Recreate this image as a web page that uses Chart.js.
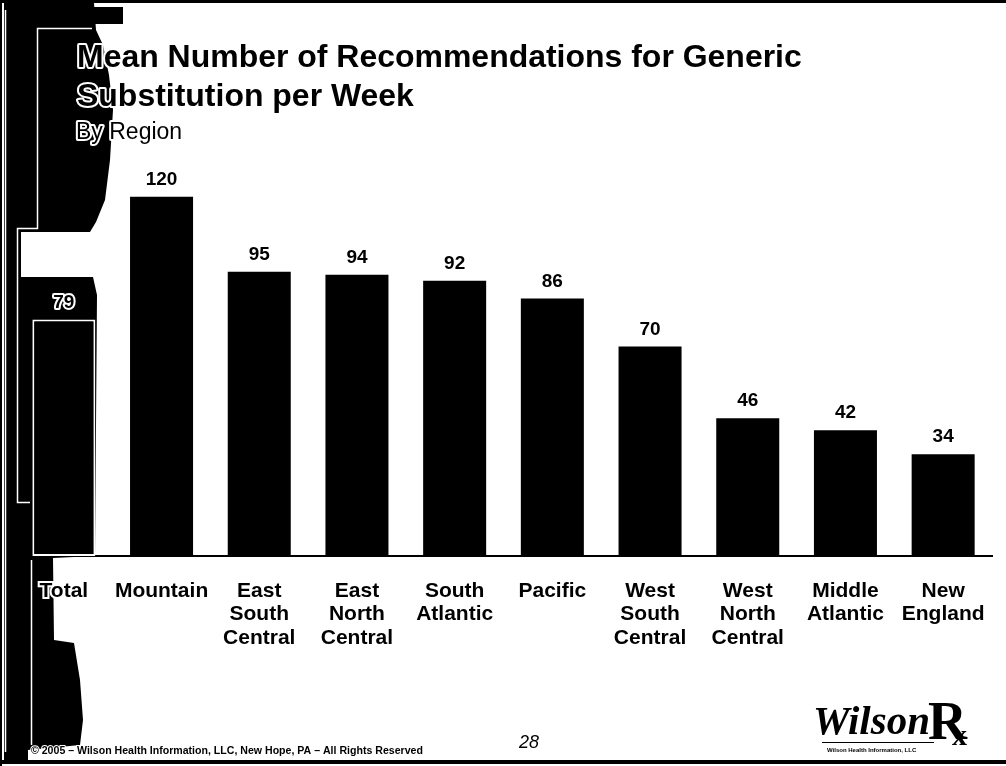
<!DOCTYPE html>
<html>
<head>
<meta charset="utf-8">
<title>Generic Substitution by Region</title>
<script src="https://cdn.jsdelivr.net/npm/chart.js@4/dist/chart.umd.min.js"></script>
<style>
  html, body { margin: 0; padding: 0; background: #fff; }
  #slide { display: block; }
</style>
</head>
<body>
<canvas id="slide" width="1006" height="766"></canvas>
<script>
// regions along the bottom, multi-line ones split into rows
const regions = [
  'Total',
  'Mountain',
  ['East', 'South', 'Central'],
  ['East', 'North', 'Central'],
  ['South', 'Atlantic'],
  'Pacific',
  ['West', 'South', 'Central'],
  ['West', 'North', 'Central'],
  ['Middle', 'Atlantic'],
  ['New', 'England']
];
const meanRecs = [79, 120, 95, 94, 92, 86, 70, 46, 42, 34];
const yMax = 140;

const titleLines = ['Mean Number of Recommendations for Generic', 'Substitution per Week'];
const subTitle = 'By Region';
const footNote = '\u00A9 2005 \u2013 Wilson Health Information, LLC, New Hope, PA \u2013 All Rights Reserved';
const pageNo = '28';

const ARIAL = 'Arial, "Liberation Sans", Helvetica, sans-serif';
const SERIF = '"Liberation Serif", "DejaVu Serif", serif';

// text with a white halo so it stays readable over the dark edge
function haloText(ctx, txt, x, y, halo) {
  ctx.lineJoin = 'round';
  ctx.strokeStyle = '#fff';
  ctx.lineWidth = halo;
  ctx.strokeText(txt, x, y);
  ctx.fillStyle = '#000';
  ctx.fillText(txt, x, y);
}

function fitFont(ctx, txt, weight, width) {
  ctx.font = weight + ' 100px ' + ARIAL;
  return 100 * width / ctx.measureText(txt).width;
}

// page background, frame and the dark left edge of the copy
const pageBackdrop = {
  id: 'pageBackdrop',
  beforeDraw(chart) {
    const ctx = chart.ctx;
    ctx.save();
    ctx.fillStyle = '#fff';
    ctx.fillRect(0, 0, chart.width, chart.height);

    ctx.fillStyle = '#000';
    ctx.fillRect(0, 0, chart.width, 3);
    ctx.fillRect(0, 760, chart.width, 4);
    ctx.fillRect(0, 0, 2, chart.height);

    ctx.beginPath();
    ctx.moveTo(4, 3);
    ctx.lineTo(94, 3);
    ctx.lineTo(96, 30);
    ctx.lineTo(103, 45);
    ctx.lineTo(109, 75);
    ctx.lineTo(113, 110);
    ctx.lineTo(110, 160);
    ctx.lineTo(105, 200);
    ctx.lineTo(96, 222);
    ctx.lineTo(90, 232);
    ctx.lineTo(21, 232);
    ctx.lineTo(21, 277);
    ctx.lineTo(93, 277);
    ctx.lineTo(97, 295);
    ctx.lineTo(95, 556);
    ctx.lineTo(53, 558);
    ctx.lineTo(54, 640);
    ctx.lineTo(74, 643);
    ctx.lineTo(80, 680);
    ctx.lineTo(83, 720);
    ctx.lineTo(80, 745);
    ctx.lineTo(28, 750);
    ctx.lineTo(28, 760);
    ctx.lineTo(4, 760);
    ctx.closePath();
    ctx.fill();

    // small patch next to the top of the edge
    ctx.fillRect(93, 7, 30, 17);

    ctx.strokeStyle = '#fff';
    ctx.lineWidth = 1.5;
    ctx.beginPath();
    ctx.moveTo(5.5, 10); ctx.lineTo(5.5, 752);
    ctx.moveTo(92, 28.5); ctx.lineTo(37.5, 28.5); ctx.lineTo(37.5, 228.5);
    ctx.lineTo(17.5, 228.5); ctx.lineTo(17.5, 502.5); ctx.lineTo(30, 502.5);
    ctx.moveTo(31.5, 560); ctx.lineTo(31.5, 745);
    ctx.stroke();
    ctx.restore();
  }
};

// titles, value labels, footer and logo
const slideText = {
  id: 'slideText',
  afterDraw(chart) {
    const ctx = chart.ctx;
    ctx.save();
    ctx.textAlign = 'left';
    ctx.textBaseline = 'alphabetic';

    const tSize = fitFont(ctx, titleLines[0], 'bold', 725);
    ctx.font = 'bold ' + tSize + 'px ' + ARIAL;
    haloText(ctx, titleLines[0], 77, 67, 4);
    haloText(ctx, titleLines[1], 77, 106, 4);

    ctx.font = '23px ' + ARIAL;
    haloText(ctx, subTitle, 76, 139, 4);

    // value above each bar
    ctx.textAlign = 'center';
    ctx.font = 'bold 19px ' + ARIAL;
    const meta = chart.getDatasetMeta(0);
    meta.data.forEach((bar, i) => {
      haloText(ctx, String(meanRecs[i]), bar.x, bar.y - 12, 4);
    });

    ctx.textAlign = 'left';
    const fSize = fitFont(ctx, footNote, 'bold', 392);
    ctx.font = 'bold ' + fSize + 'px ' + ARIAL;
    haloText(ctx, footNote, 31, 754, 2);

    ctx.textAlign = 'center';
    ctx.font = 'italic 18px ' + ARIAL;
    ctx.fillStyle = '#000';
    ctx.fillText(pageNo, 529, 748);

    // WilsonRx mark
    ctx.textAlign = 'left';
    ctx.font = 'italic bold 41px ' + SERIF;
    ctx.fillText('Wilson', 813, 734);
    ctx.font = 'bold 54px ' + SERIF;
    ctx.fillText('R', 928, 739);
    ctx.font = 'bold 30px ' + SERIF;
    ctx.fillText('x', 952, 745);
    ctx.font = 'bold 6px ' + ARIAL;
    ctx.fillText('Wilson Health Information, LLC', 827, 752);
    ctx.fillRect(822, 742, 112, 1);
    ctx.restore();
  }
};

new Chart(document.getElementById('slide'), {
  type: 'bar',
  data: {
    labels: regions,
    datasets: [{
      data: meanRecs,
      backgroundColor: '#000',
      borderColor: meanRecs.map((v, i) => (i === 0 ? '#fff' : '#000')),
      borderWidth: meanRecs.map((v, i) => (i === 0 ? 2 : 0)),
      borderSkipped: false,
      barPercentage: 0.645,
      categoryPercentage: 1
    }]
  },
  options: {
    responsive: false,
    animation: false,
    devicePixelRatio: 1,
    layout: { padding: { top: 137, left: 15, right: 14, bottom: 0 } },
    plugins: {
      legend: { display: false },
      tooltip: { enabled: false },
      title: { display: false }
    },
    scales: {
      x: {
        grid: { display: false, drawTicks: false },
        border: { display: true, color: '#000', width: 2 },
        afterFit(axis) {
          axis.height = 210;
          axis.paddingLeft = 0;
          axis.paddingRight = 0;
        },
        ticks: {
          color: '#000',
          autoSkip: false,
          maxRotation: 0,
          padding: 24,
          textStrokeColor: '#fff',
          textStrokeWidth: 4,
          font: { family: ARIAL, size: 21, weight: 'bold', lineHeight: 1.1 }
        }
      },
      y: {
        display: false,
        min: 0,
        max: yMax
      }
    }
  },
  plugins: [pageBackdrop, slideText]
});
</script>
</body>
</html>
